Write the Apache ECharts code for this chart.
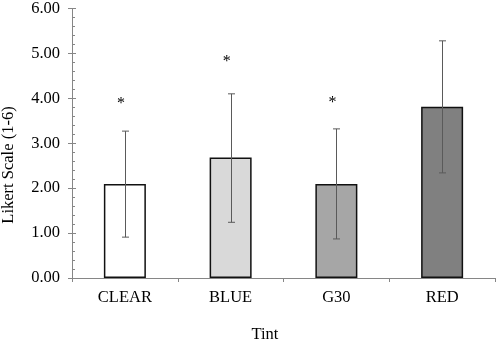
<!DOCTYPE html>
<html>
<head>
<meta charset="utf-8">
<script src="https://cdn.jsdelivr.net/npm/echarts@6/dist/echarts.min.js"></script>
<style>
  html, body { margin: 0; padding: 0; background: #fff; }
  #chart { width: 500px; height: 345px; }
</style>
</head>
<body>
<div id="chart"></div>
<script>
// tint groups and ratings (mean, SD bounds)
const categories = ["CLEAR", "BLUE", "G30", "RED"];
const means = [2.09, 2.68, 2.09, 3.81];
const errLow = [0.91, 1.24, 0.87, 2.34];
const errHigh = [3.27, 4.10, 3.32, 5.28];
const starLevel = [3.92, 4.85, 3.94, null];
const barColors = ["#ffffff", "#d9d9d9", "#a6a6a6", "#808080"];
const yTicks = [0, 1, 2, 3, 4, 5, 6];

const FONT = "'Liberation Serif', 'Times New Roman', serif";

const chart = echarts.init(document.getElementById("chart"), null, { renderer: "canvas" });

const option = {
  animation: false,
  backgroundColor: "#fff",
  grid: { left: 72, right: 5, top: 7, bottom: 67 },
  xAxis: {
    type: "category",
    data: categories,
    axisLine: { lineStyle: { color: "#868686", width: 1 } },
    axisTick: { show: true, length: 4, lineStyle: { color: "#868686" } },
    axisLabel: { color: "#000", fontFamily: FONT, fontSize: 16.5, margin: 11 },
  },
  yAxis: [
    {
      type: "value",
      min: yTicks[0],
      max: yTicks[yTicks.length - 1],
      interval: 1,
      splitLine: { show: false },
      axisLine: { show: true, lineStyle: { color: "#868686", width: 1 } },
      axisTick: { show: true, length: 4, lineStyle: { color: "#868686" } },
      axisLabel: {
        color: "#000",
        fontFamily: FONT,
        fontSize: 16.5,
        margin: 12,
        formatter: (v) => v.toFixed(2),
      },
    },
    {
      // inside ticks + minor ticks, same scale
      type: "value",
      position: "left",
      min: yTicks[0],
      max: yTicks[yTicks.length - 1],
      interval: 1,
      splitLine: { show: false },
      axisLine: { show: true, lineStyle: { color: "rgba(0,0,0,0)" } },
      axisLabel: { show: false },
      axisTick: { show: true, inside: true, length: 4, lineStyle: { color: "#868686" } },
      minorTick: { show: true, splitNumber: 5, length: 3, lineStyle: { color: "#868686" } },
    },
  ],
  series: [
    {
      type: "bar",
      barWidth: 42,
      data: means.map((v, i) => ({
        value: v,
        itemStyle: { color: barColors[i], borderColor: "#111", borderWidth: 1.5 },
      })),
      z: 2,
    },
    {
      type: "custom",
      z: 3,
      data: categories.map((c, i) => [i, errLow[i], errHigh[i]]),
      renderItem: (params, api) => {
        const lo = api.coord([api.value(0), api.value(1)]);
        const hi = api.coord([api.value(0), api.value(2)]);
        const x = Math.round(hi[0]) + 0.5;
        const cap = 3.5;
        const style = { stroke: "#5a5a5a", lineWidth: 1 };
        return {
          type: "group",
          children: [
            { type: "line", shape: { x1: x, y1: hi[1], x2: x, y2: lo[1] }, style },
            { type: "line", shape: { x1: x - cap, y1: hi[1], x2: x + cap, y2: hi[1] }, style },
            { type: "line", shape: { x1: x - cap, y1: lo[1], x2: x + cap, y2: lo[1] }, style },
          ],
        };
      },
    },
    {
      type: "custom",
      z: 4,
      data: starLevel.map((v, i) => [i, v]).filter((d) => d[1] != null),
      renderItem: (params, api) => {
        const p = api.coord([api.value(0), api.value(1)]);
        return {
          type: "text",
          x: p[0] - 4,
          y: p[1] + 2,
          style: {
            text: "*",
            fill: "#000",
            font: "16px " + FONT,
            align: "center",
            verticalAlign: "middle",
          },
        };
      },
    },
  ],
  graphic: [
    {
      type: "text",
      x: 9,
      y: 165,
      rotation: Math.PI / 2,
      style: {
        text: "Likert Scale (1-6)",
        fill: "#000",
        font: "16.5px " + FONT,
        align: "center",
        verticalAlign: "middle",
      },
    },
    {
      type: "text",
      x: 265,
      y: 335,
      style: {
        text: "Tint",
        fill: "#000",
        font: "16.5px " + FONT,
        align: "center",
        verticalAlign: "middle",
      },
    },
  ],
};

chart.setOption(option);
</script>
</body>
</html>
